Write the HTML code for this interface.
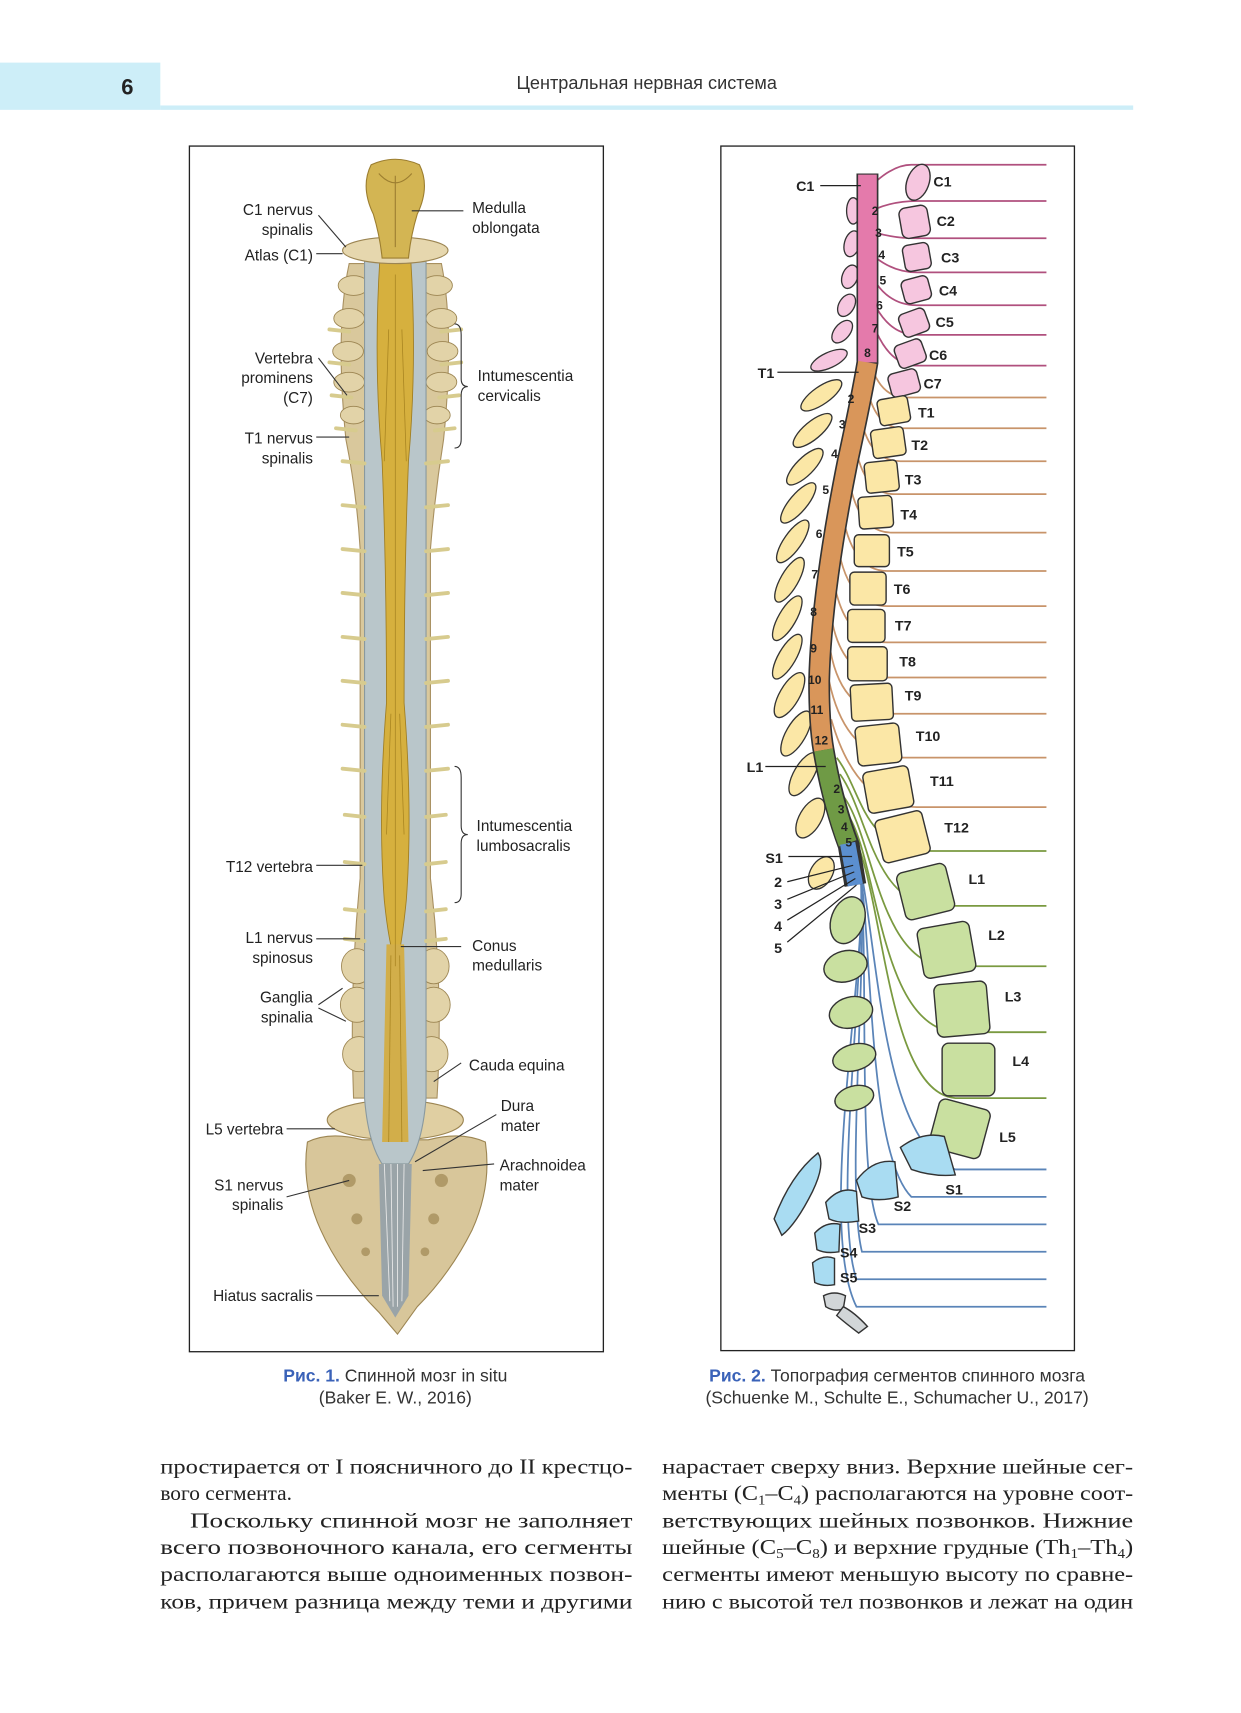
<!DOCTYPE html>
<html><head><meta charset="utf-8"><style>html,body{margin:0;padding:0;background:#fff}svg{display:block}</style></head>
<body>
<svg width="1241" height="1713" viewBox="0 0 1130.2 1560" xmlns="http://www.w3.org/2000/svg" font-family="Liberation Sans, sans-serif">
<rect x="0" y="57" width="146" height="43" fill="#cdeef8"/>
<rect x="146" y="96" width="886" height="4" fill="#cdeef8"/>
<text x="116" y="86" font-size="20" font-weight="bold" text-anchor="middle" fill="#222">6</text>
<text x="589" y="81" font-size="16.5" text-anchor="middle" fill="#333">Центральная нервная система</text>

<rect x="172.5" y="133" width="377" height="1098" fill="#fff" stroke="#222" stroke-width="1.2"/>
<rect x="656.5" y="133" width="322" height="1097" fill="#fff" stroke="#222" stroke-width="1.2"/>

<g>
<path d="M318,240 Q305,300 315,400 Q325,450 328,500 L328,800 Q318,900 322,1000 L398,1000 Q404,900 392,800 L392,500 Q396,450 404,400 Q414,300 402,240 Z" fill="#d9c89c" stroke="#a89060" stroke-width="1"/>
<g fill="#e2d3a8" stroke="#9c8552" stroke-width="0.8">
<ellipse cx="322" cy="260" rx="14" ry="9"/><ellipse cx="398" cy="260" rx="14" ry="9"/>
<ellipse cx="318" cy="290" rx="14" ry="9"/><ellipse cx="402" cy="290" rx="14" ry="9"/>
<ellipse cx="317" cy="320" rx="14" ry="9"/><ellipse cx="403" cy="320" rx="14" ry="9"/>
<ellipse cx="318" cy="348" rx="14" ry="9"/><ellipse cx="402" cy="348" rx="14" ry="9"/>
<ellipse cx="322" cy="378" rx="12" ry="8"/><ellipse cx="398" cy="378" rx="12" ry="8"/>
<ellipse cx="325" cy="880" rx="14" ry="16"/><ellipse cx="395" cy="880" rx="14" ry="16"/>
<ellipse cx="325" cy="915" rx="15" ry="16"/><ellipse cx="395" cy="915" rx="15" ry="16"/>
<ellipse cx="327" cy="960" rx="15" ry="16"/><ellipse cx="393" cy="960" rx="15" ry="16"/>
</g>
<path d="M280,1040 Q300,1030 330,1038 L390,1038 Q420,1030 442,1040 Q448,1080 430,1120 Q410,1160 380,1190 L362,1215 L345,1195 Q310,1160 292,1120 Q274,1080 280,1040 Z" fill="#d8c69a" stroke="#9c8552" stroke-width="1"/>
<g fill="#b09a68"><circle cx="318" cy="1075" r="6"/><circle cx="402" cy="1075" r="6"/><circle cx="325" cy="1110" r="5"/><circle cx="395" cy="1110" r="5"/><circle cx="333" cy="1140" r="4"/><circle cx="387" cy="1140" r="4"/></g>
<ellipse cx="360" cy="1020" rx="62" ry="18" fill="#e0cfa2" stroke="#9c8552"/>
<path d="M332,235 L388,235 L388,1000 Q385,1040 372,1060 L348,1060 Q335,1040 332,1000 Z" fill="#b9c6ca" stroke="#8a999e" stroke-width="1"/>
<path d="M345,1060 L375,1060 L372,1180 L360,1200 L348,1180 Z" fill="#9aa4a8"/>
<g stroke="#e8e8e8" stroke-width="0.8"><line x1="350" y1="1060" x2="355" y2="1185"/><line x1="356" y1="1060" x2="358" y2="1190"/><line x1="362" y1="1060" x2="362" y2="1190"/><line x1="368" y1="1060" x2="366" y2="1185"/></g>
<g stroke="#d7cb8e" stroke-width="3.5" stroke-linecap="round">
<line x1="312" y1="420" x2="332" y2="422"/><line x1="388" y1="422" x2="408" y2="420"/>
<line x1="312" y1="460" x2="332" y2="462"/><line x1="388" y1="462" x2="408" y2="460"/>
<line x1="312" y1="500" x2="332" y2="502"/><line x1="388" y1="502" x2="408" y2="500"/>
<line x1="312" y1="540" x2="332" y2="542"/><line x1="388" y1="542" x2="408" y2="540"/>
<line x1="312" y1="580" x2="332" y2="582"/><line x1="388" y1="582" x2="408" y2="580"/>
<line x1="312" y1="620" x2="332" y2="622"/><line x1="388" y1="622" x2="408" y2="620"/>
<line x1="312" y1="660" x2="332" y2="662"/><line x1="388" y1="662" x2="408" y2="660"/>
<line x1="312" y1="700" x2="332" y2="702"/><line x1="388" y1="702" x2="408" y2="700"/>
<line x1="314" y1="742" x2="332" y2="744"/><line x1="388" y1="744" x2="406" y2="742"/>
<line x1="314" y1="785" x2="332" y2="787"/><line x1="388" y1="787" x2="406" y2="785"/>
<line x1="314" y1="828" x2="332" y2="830"/><line x1="388" y1="830" x2="406" y2="828"/>
<line x1="314" y1="855" x2="332" y2="857"/><line x1="388" y1="857" x2="406" y2="855"/>
<line x1="300" y1="300" x2="318" y2="302"/><line x1="402" y1="302" x2="420" y2="300"/>
<line x1="300" y1="330" x2="318" y2="332"/><line x1="402" y1="332" x2="420" y2="330"/>
<line x1="302" y1="360" x2="320" y2="362"/><line x1="400" y1="362" x2="418" y2="360"/>
<line x1="306" y1="390" x2="324" y2="392"/><line x1="396" y1="392" x2="414" y2="390"/>
</g>
<path d="M346,235 L374,235 Q380,330 372,420 Q368,520 368,640 Q376,740 370,820 Q366,860 361,880 Q354,860 350,820 Q344,740 352,640 Q352,520 348,420 Q340,330 346,235 Z" fill="#d6b03e" stroke="#a07e22" stroke-width="0.8"/>
<path d="M352,860 L368,860 L372,1040 L348,1040 Z" fill="#d2ae4a"/>
<g stroke="#a88420" stroke-width="0.7" fill="none"><path d="M360,250 L360,880"/><path d="M354,300 L350,420"/><path d="M366,300 L370,420"/><path d="M356,650 L352,760"/><path d="M364,650 L368,760"/><path d="M356,870 L354,1040"/><path d="M364,870 L366,1040"/></g>
<ellipse cx="360" cy="228" rx="48" ry="12" fill="#e6d7ae" stroke="#9c8552"/>
<path d="M338,150 Q360,140 382,150 Q392,170 380,195 Q374,215 372,235 L348,235 Q346,215 340,195 Q328,170 338,150 Z" fill="#d3b553" stroke="#9c7e30"/>
<path d="M345,158 Q360,175 375,158 M360,160 L360,225" stroke="#9c7e30" fill="none"/>
</g>
<g font-size="14" fill="#222" text-anchor="end">
<text x="285" y="196">C1 nervus</text><text x="285" y="214">spinalis</text>
<text x="285" y="237">Atlas (C1)</text>
<text x="285" y="331">Vertebra</text><text x="285" y="349">prominens</text><text x="285" y="367">(C7)</text>
<text x="285" y="404">T1 nervus</text><text x="285" y="422">spinalis</text>
<text x="285" y="794">T12 vertebra</text>
<text x="285" y="859">L1 nervus</text><text x="285" y="877">spinosus</text>
<text x="285" y="913">Ganglia</text><text x="285" y="931">spinalia</text>
<text x="258" y="1033">L5 vertebra</text>
<text x="258" y="1084">S1 nervus</text><text x="258" y="1102">spinalis</text>
<text x="285" y="1185">Hiatus sacralis</text>
</g>
<g font-size="14" fill="#222">
<text x="430" y="194">Medulla</text><text x="430" y="212">oblongata</text>
<text x="435" y="347">Intumescentia</text><text x="435" y="365">cervicalis</text>
<text x="434" y="757">Intumescentia</text><text x="434" y="775">lumbosacralis</text>
<text x="430" y="866">Conus</text><text x="430" y="884">medullaris</text>
<text x="427" y="975">Cauda equina</text>
<text x="456" y="1012">Dura</text><text x="456" y="1030">mater</text>
<text x="455" y="1066">Arachnoidea</text><text x="455" y="1084">mater</text>
</g>
<g stroke="#333" stroke-width="1" fill="none">
<path d="M290,196 L315,225"/><path d="M288,231 L312,231"/>
<path d="M290,326 L316,360"/><path d="M288,398 L318,398"/>
<path d="M288,788 L330,788"/><path d="M288,855 L328,855"/>
<path d="M290,915 L312,900 M290,918 L315,930"/>
<path d="M261,1028 L305,1028"/><path d="M261,1090 L318,1075"/>
<path d="M288,1180 L345,1180"/>
<path d="M375,192 L422,192"/><path d="M365,862 L420,862"/>
<path d="M395,985 L420,968"/><path d="M452,1015 L378,1058"/><path d="M450,1060 L385,1066"/>
<path d="M414,295 Q420,295 420,305 L420,345 Q420,352 426,352 Q420,352 420,360 L420,400 Q420,408 414,408"/>
<path d="M414,698 Q420,698 420,708 L420,752 Q420,760 426,760 Q420,760 420,768 L420,814 Q420,822 414,822"/>
</g>

<g fill="none" stroke-width="1.6">
<g stroke="#b0507e">
<path d="M798,165 Q815,150 830,150 L953,150"/>
<path d="M798,190 Q815,183 835,183 L953,183"/>
<path d="M798,212 Q815,217 835,217 L953,217"/>
<path d="M798,235 Q815,248 835,248 L953,248"/>
<path d="M798,258 Q812,278 835,278 L953,278"/>
<path d="M798,280 Q812,305 835,305 L953,305"/>
<path d="M798,302 Q812,333 835,333 L953,333"/>
</g>
<g stroke="#c8946a">
<path d="M791,325 Q800,362 825,362 L953,362"/>
<path d="M788,345 Q795,390 822,390 L953,390"/>
<path d="M783,375 Q790,420 820,420 L953,420"/>
<path d="M778,400 Q785,450 815,450 L953,450"/>
<path d="M772,430 Q780,485 812,485 L953,485"/>
<path d="M766,460 Q774,520 808,520 L953,520"/>
<path d="M762,490 Q770,552 808,552 L953,552"/>
<path d="M758,520 Q766,585 808,585 L953,585"/>
<path d="M756,555 Q764,617 808,617 L953,617"/>
<path d="M755,585 Q764,650 812,650 L953,650"/>
<path d="M755,620 Q770,690 820,690 L953,690"/>
<path d="M757,655 Q780,735 835,735 L953,735"/>
</g>
<g stroke="#7a9a40">
<path d="M762,690 C785,720 785,770 840,775 L953,775"/>
<path d="M765,705 C790,740 795,820 850,825 L953,825"/>
<path d="M768,725 C795,760 800,875 860,880 L953,880"/>
<path d="M771,740 C800,780 800,935 870,940 L953,940"/>
<path d="M774,755 C805,800 805,995 870,1000 L953,1000"/>
</g>
<g stroke="#5a84b8">
<path d="M780,775 C800,850 800,1040 870,1065 L953,1065"/>
<path d="M782,782 C795,860 790,1050 830,1090 L953,1090"/>
<path d="M783,788 C792,870 780,1070 800,1115 L953,1115"/>
<path d="M784,794 C790,880 770,1080 785,1140 L953,1140"/>
<path d="M784,800 C788,890 758,1100 780,1165 L953,1165"/>
<path d="M785,805 C786,900 745,1120 780,1190 L953,1190"/>
</g>
</g>
<g stroke="#333" stroke-width="1.3">
<g fill="#f6c6df">
<ellipse cx="836" cy="166" rx="10" ry="17" transform="rotate(20 836 166)"/>
<rect x="820" y="188" width="26" height="28" rx="6" transform="rotate(-10 833 202)"/>
<rect x="823" y="222" width="24" height="24" rx="5" transform="rotate(-10 835 234)"/>
<rect x="822" y="253" width="25" height="22" rx="5" transform="rotate(-15 834 264)"/>
<rect x="820" y="283" width="25" height="22" rx="5" transform="rotate(-20 832 294)"/>
<rect x="816" y="311" width="26" height="22" rx="5" transform="rotate(-20 829 322)"/>
<rect x="810" y="338" width="27" height="22" rx="5" transform="rotate(-15 823 349)"/>
</g>
<g fill="#fbe7a6">
<rect x="800" y="362" width="28" height="24" rx="4" transform="rotate(-10 814 374)"/>
<rect x="794" y="390" width="30" height="26" rx="4" transform="rotate(-8 809 403)"/>
<rect x="788" y="420" width="30" height="28" rx="4" transform="rotate(-6 803 434)"/>
<rect x="782" y="452" width="31" height="29" rx="4" transform="rotate(-4 797 466)"/>
<rect x="778" y="487" width="32" height="29" rx="4"/>
<rect x="774" y="521" width="33" height="30" rx="4"/>
<rect x="772" y="555" width="34" height="30" rx="4"/>
<rect x="772" y="589" width="36" height="31" rx="4"/>
<rect x="775" y="623" width="38" height="33" rx="4" transform="rotate(-3 794 640)"/>
<rect x="780" y="660" width="40" height="36" rx="5" transform="rotate(-6 800 678)"/>
<rect x="788" y="700" width="42" height="38" rx="5" transform="rotate(-10 809 719)"/>
<rect x="800" y="742" width="44" height="40" rx="5" transform="rotate(-14 822 762)"/>
</g>
<g fill="#c9e0a0">
<rect x="820" y="790" width="46" height="44" rx="6" transform="rotate(-14 843 812)"/>
<rect x="838" y="842" width="48" height="46" rx="6" transform="rotate(-10 862 865)"/>
<rect x="852" y="895" width="48" height="48" rx="6" transform="rotate(-5 876 919)"/>
<rect x="858" y="950" width="48" height="48" rx="6"/>
<rect x="850" y="1005" width="48" height="46" rx="6" transform="rotate(15 874 1028)"/>
<ellipse cx="772" cy="838" rx="15" ry="22" transform="rotate(20 772 838)"/>
<ellipse cx="770" cy="880" rx="20" ry="14" transform="rotate(-15 770 880)"/>
<ellipse cx="775" cy="922" rx="20" ry="14" transform="rotate(-15 775 922)"/>
<ellipse cx="778" cy="963" rx="20" ry="12" transform="rotate(-15 778 963)"/>
<ellipse cx="778" cy="1000" rx="18" ry="11" transform="rotate(-15 778 1000)"/>
</g>
<g fill="#a9dcf2">
<path d="M820,1045 Q840,1030 860,1035 L870,1070 Q850,1072 830,1065 Z"/>
<path d="M780,1075 Q795,1055 815,1058 L818,1090 Q800,1095 785,1090 Z"/>
<path d="M752,1095 Q765,1080 780,1085 L782,1112 Q765,1115 755,1110 Z"/>
<path d="M742,1123 Q752,1112 765,1115 L764,1140 Q752,1142 744,1138 Z"/>
<path d="M740,1150 Q750,1142 760,1146 L760,1170 Q750,1172 742,1168 Z"/>
<path d="M705,1110 Q720,1070 745,1050 Q752,1060 740,1085 Q725,1115 712,1125 Z"/>
</g>
<g fill="#d2d6d8"><path d="M750,1180 Q760,1175 770,1180 L768,1192 Q760,1195 752,1190 Z"/><path d="M768,1190 Q778,1195 790,1208 L782,1214 Q770,1205 762,1198 Z"/></g>
</g>
<g stroke="#333" stroke-width="1.2">
<g fill="#f6c6df">
<ellipse cx="777" cy="192" rx="6" ry="12"/>
<ellipse cx="776" cy="222" rx="7" ry="12" transform="rotate(15 776 222)"/>
<ellipse cx="774" cy="252" rx="7" ry="11" transform="rotate(20 774 252)"/>
<ellipse cx="771" cy="278" rx="7" ry="11" transform="rotate(30 771 278)"/>
<ellipse cx="767" cy="302" rx="7" ry="12" transform="rotate(40 767 302)"/>
<ellipse cx="755" cy="328" rx="18" ry="7" transform="rotate(-25 755 328)"/>
</g>
<g fill="#fbe7a6">
<ellipse cx="748" cy="360" rx="22" ry="8" transform="rotate(-35 748 360)"/>
<ellipse cx="740" cy="392" rx="22" ry="8" transform="rotate(-40 740 392)"/>
<ellipse cx="733" cy="425" rx="22" ry="8" transform="rotate(-45 733 425)"/>
<ellipse cx="727" cy="458" rx="23" ry="8" transform="rotate(-50 727 458)"/>
<ellipse cx="722" cy="493" rx="23" ry="8" transform="rotate(-55 722 493)"/>
<ellipse cx="719" cy="528" rx="23" ry="8" transform="rotate(-60 719 528)"/>
<ellipse cx="717" cy="563" rx="23" ry="8" transform="rotate(-60 717 563)"/>
<ellipse cx="717" cy="598" rx="23" ry="8" transform="rotate(-60 717 598)"/>
<ellipse cx="719" cy="633" rx="23" ry="9" transform="rotate(-60 719 633)"/>
<ellipse cx="725" cy="668" rx="23" ry="9" transform="rotate(-60 725 668)"/>
<ellipse cx="732" cy="705" rx="22" ry="9" transform="rotate(-60 732 705)"/>
<ellipse cx="738" cy="745" rx="20" ry="10" transform="rotate(-60 738 745)"/>
<ellipse cx="748" cy="795" rx="16" ry="10" transform="rotate(-60 748 795)"/>
</g>
</g>
<g fill="none" stroke-linecap="butt">
<path d="M790,158 L790,330 Q785,360 772,420 Q748,540 746,620 Q746,660 750,683 Q758,730 773,770 L779,806" stroke="#333" stroke-width="20"/>
<path d="M790,159 L790,330" stroke="#e47aab" stroke-width="17"/>
<path d="M790,330 Q785,360 772,420 Q748,540 746,620 Q746,660 750,683" stroke="#d9965a" stroke-width="17"/>
<path d="M750,683 Q758,730 772,768" stroke="#6f9a45" stroke-width="17"/>
<path d="M772,768 L779,806" stroke="#5b8fd0" stroke-width="14"/>
</g>
<g font-size="11" font-weight="bold" fill="#222" text-anchor="middle">
<text x="797" y="196">2</text><text x="800" y="216">3</text><text x="803" y="236">4</text><text x="804" y="259">5</text><text x="801" y="282">6</text><text x="797" y="303">7</text><text x="790" y="325">8</text>
<text x="775" y="367">2</text><text x="767" y="390">3</text><text x="760" y="417">4</text><text x="752" y="450">5</text><text x="746" y="490">6</text><text x="742" y="527">7</text><text x="741" y="561">8</text><text x="741" y="594">9</text><text x="742" y="623">10</text><text x="744" y="650">11</text><text x="748" y="678">12</text>
<text x="762" y="722">2</text><text x="766" y="741">3</text><text x="769" y="757">4</text><text x="773" y="771">5</text>
</g>
<g font-size="13" font-weight="bold" fill="#222">
<text x="850" y="170">C1</text><text x="853" y="206">C2</text><text x="857" y="239">C3</text><text x="855" y="269">C4</text><text x="852" y="298">C5</text><text x="846" y="328">C6</text><text x="841" y="354">C7</text>
<text x="836" y="380">T1</text><text x="830" y="410">T2</text><text x="824" y="441">T3</text><text x="820" y="473">T4</text><text x="817" y="507">T5</text><text x="814" y="541">T6</text><text x="815" y="574">T7</text><text x="819" y="607">T8</text><text x="824" y="638">T9</text><text x="834" y="675">T10</text><text x="847" y="716">T11</text><text x="860" y="758">T12</text>
<text x="882" y="805">L1</text><text x="900" y="856">L2</text><text x="915" y="912">L3</text><text x="922" y="971">L4</text><text x="910" y="1040">L5</text>
<text x="861" y="1088">S1</text><text x="814" y="1103">S2</text><text x="782" y="1123">S3</text><text x="765" y="1145">S4</text><text x="765" y="1168">S5</text>
<text x="725" y="174">C1</text><text x="690" y="344">T1</text><text x="680" y="703">L1</text><text x="697" y="786">S1</text>
<text x="705" y="808">2</text><text x="705" y="828">3</text><text x="705" y="848">4</text><text x="705" y="868">5</text>
</g>
<g stroke="#222" stroke-width="1.1" fill="none">
<path d="M747,169 L784,169"/><path d="M708,339 L782,339"/><path d="M697,698 L752,698"/>
<path d="M718,780 L776,780"/><path d="M717,803 L777,788"/><path d="M717,819 L778,794"/><path d="M717,838 L779,800"/><path d="M717,858 L780,806"/>
</g>

<g font-size="16" fill="#333" text-anchor="middle">
<text x="360" y="1258"><tspan font-weight="bold" fill="#3a62b8">Рис. 1.</tspan> Спинной мозг in situ</text>
<text x="360" y="1278">(Baker E. W., 2016)</text>
<text x="817" y="1258"><tspan font-weight="bold" fill="#3a62b8">Рис. 2.</tspan> Топография сегментов спинного мозга</text>
<text x="817" y="1278">(Schuenke M., Schulte E., Schumacher U., 2017)</text>
</g>

<g font-family="Liberation Serif, serif" font-size="19.5" fill="#222">
<text x="146" y="1342" textLength="430" lengthAdjust="spacingAndGlyphs">простирается от I поясничного до II крестцо-</text>
<text x="146" y="1366">вого сегмента.</text>
<text x="173" y="1391" textLength="403" lengthAdjust="spacingAndGlyphs">Поскольку спинной мозг не заполняет</text>
<text x="146" y="1415" textLength="430" lengthAdjust="spacingAndGlyphs">всего позвоночного канала, его сегменты</text>
<text x="146" y="1440" textLength="430" lengthAdjust="spacingAndGlyphs">располагаются выше одноименных позвон-</text>
<text x="146" y="1465" textLength="430" lengthAdjust="spacingAndGlyphs">ков, причем разница между теми и другими</text>
<text x="603" y="1342" textLength="429" lengthAdjust="spacingAndGlyphs">нарастает сверху вниз. Верхние шейные сег-</text>
<text x="603" y="1366" textLength="429" lengthAdjust="spacingAndGlyphs">менты (C<tspan font-size="12" dy="4">1</tspan><tspan dy="-4">–C</tspan><tspan font-size="12" dy="4">4</tspan><tspan dy="-4">) располагаются на уровне соот-</tspan></text>
<text x="603" y="1391" textLength="429" lengthAdjust="spacingAndGlyphs">ветствующих шейных позвонков. Нижние</text>
<text x="603" y="1415" textLength="429" lengthAdjust="spacingAndGlyphs">шейные (C<tspan font-size="12" dy="4">5</tspan><tspan dy="-4">–C</tspan><tspan font-size="12" dy="4">8</tspan><tspan dy="-4">) и верхние грудные (Th</tspan><tspan font-size="12" dy="4">1</tspan><tspan dy="-4">–Th</tspan><tspan font-size="12" dy="4">4</tspan><tspan dy="-4">)</tspan></text>
<text x="603" y="1440" textLength="429" lengthAdjust="spacingAndGlyphs">сегменты имеют меньшую высоту по сравне-</text>
<text x="603" y="1465" textLength="429" lengthAdjust="spacingAndGlyphs">нию с высотой тел позвонков и лежат на один</text>
</g>
</svg>
</body></html>
